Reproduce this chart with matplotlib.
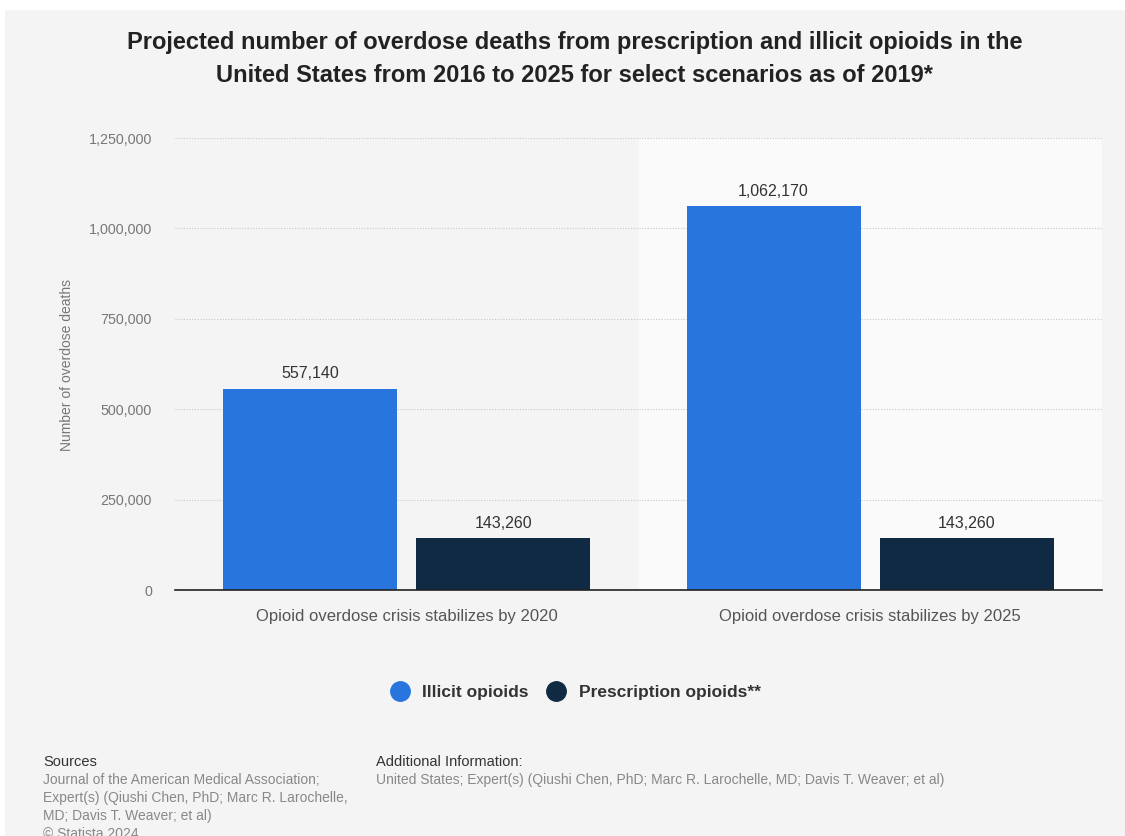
import numpy as np
import matplotlib.pyplot as plt
from matplotlib.patches import Rectangle
from matplotlib.lines import Line2D
from matplotlib.ticker import FuncFormatter

# data
scenarios = ["Opioid overdose crisis stabilizes by 2020",
             "Opioid overdose crisis stabilizes by 2025"]
illicit = [557140, 1062170]
prescription = [143260, 143260]
series_names = ["Illicit opioids", "Prescription opioids**"]
colors = ["#2876dd", "#0f2a42"]

plt.rcParams["font.family"] = ["Liberation Sans", "DejaVu Sans"]

fig = plt.figure(figsize=(11.25, 8.36), dpi=100)
fig.patch.set_facecolor("white")
fig.patches.append(Rectangle((5 / 1125, 0), 1, 826 / 836, transform=fig.transFigure,
                             facecolor="#f4f4f4", edgecolor="none", zorder=-10))

ax = fig.add_axes([175 / 1125, 246 / 836, 927 / 1125, 452 / 836])
ax.set_facecolor("none")

x = np.arange(len(scenarios))
w = 0.375
off = 0.2085
b1 = ax.bar(x - off, illicit, w, color=colors[0], zorder=3)
b2 = ax.bar(x + off, prescription, w, color=colors[1], zorder=3)

# lighter band behind the second scenario
ax.axvspan(0.5, 1.5, ymin=0, ymax=1, color="#fafafa", zorder=0)

for bars, vals in ((b1, illicit), (b2, prescription)):
    for r, v in zip(bars, vals):
        ax.text(r.get_x() + r.get_width() / 2, v + 20000, f"{v:,}",
                ha="center", va="bottom", fontsize=11.5, color="#333333")

ax.set_xlim(-0.5, 1.5)
ax.set_ylim(0, 1250000)
ax.set_yticks(np.arange(0, 1250001, 250000))
ax.yaxis.set_major_formatter(FuncFormatter(lambda v, p: f"{int(v):,}"))
ax.grid(axis="y", color="#c8c8c8", linestyle=(0, (1, 1.5)), linewidth=0.8, zorder=1)
ax.set_xticks(x)
ax.set_xticklabels(scenarios, fontsize=12, color="#555555")
ax.tick_params(axis="y", length=0, pad=16.5, labelsize=10.3, labelcolor="#777777")
ax.tick_params(axis="x", length=0, pad=14)
for s in ["top", "right", "left"]:
    ax.spines[s].set_visible(False)
ax.spines["bottom"].set_color("#222222")
ax.spines["bottom"].set_linewidth(1.2)
ax.spines["bottom"].set_zorder(4)

fig.text(67 / 1125, 1 - 365 / 836, "Number of overdose deaths", rotation=90,
         ha="center", va="center", fontsize=10, color="#777777")

fig.text(0.511, 1 - 43 / 836,
         "Projected number of overdose deaths from prescription and illicit opioids in the",
         ha="center", va="center", fontsize=17, fontweight="bold", color="#222222")
fig.text(0.511, 1 - 76 / 836,
         "United States from 2016 to 2025 for select scenarios as of 2019*",
         ha="center", va="center", fontsize=17, fontweight="bold", color="#222222")

handles = [Line2D([], [], marker="o", linestyle="none", markersize=14,
                  markerfacecolor=c, markeredgecolor=c) for c in colors]
leg = fig.legend(handles, series_names, loc="center", bbox_to_anchor=(0.508, 1 - 692 / 836),
                 ncol=2, frameon=False, handletextpad=0.3, columnspacing=0.6,
                 prop={"weight": "bold", "size": 12.5})
for t in leg.get_texts():
    t.set_color("#333333")

# footer
fig.text(43 / 1125, 1 - 762 / 836, "Sources", fontsize=10.5, color="#333333", va="center")
src = ["Journal of the American Medical Association;",
       "Expert(s) (Qiushi Chen, PhD; Marc R. Larochelle,",
       "MD; Davis T. Weaver; et al)",
       "© Statista 2024"]
for i, line in enumerate(src):
    fig.text(43 / 1125, 1 - (780 + i * 18) / 836, line, fontsize=10,
             color="#888888", va="center")
fig.text(376 / 1125, 1 - 762 / 836, "Additional Information:", fontsize=10.5,
         color="#333333", va="center")
fig.text(376 / 1125, 1 - 780 / 836,
         "United States; Expert(s) (Qiushi Chen, PhD; Marc R. Larochelle, MD; Davis T. Weaver; et al)",
         fontsize=10, color="#888888", va="center")

fig.savefig("out.png", dpi=100)
